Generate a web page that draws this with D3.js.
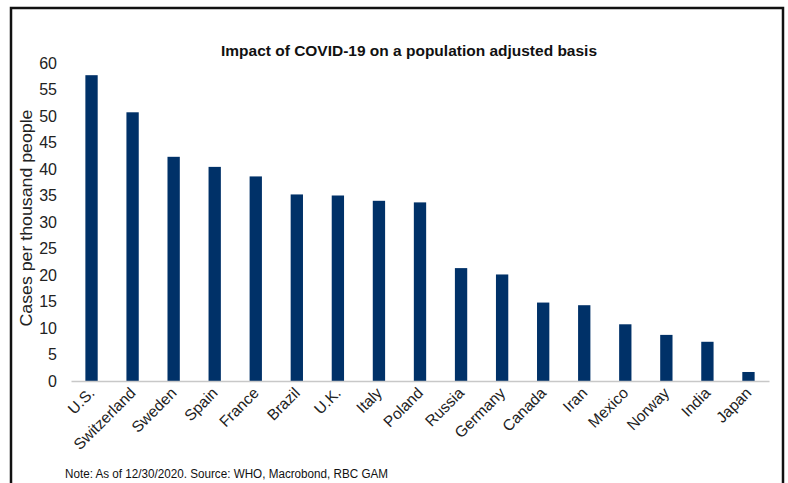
<!DOCTYPE html>
<html>

<head>
    <meta charset="utf-8">
    <title>Impact of COVID-19</title>
    <script src="https://d3js.org/d3.v7.min.js"></script>
    <style>
        body { margin: 0; background: #fff; }
        text { font-family: "Liberation Sans", Arial, sans-serif; }
    </style>
</head>

<body>
    <div id="chart"></div>
</body>

<script>
    let paises = ['U.S.', 'Switzerland', 'Sweden', 'Spain', 'France', 'Brazil', 'U.K.', 'Italy', 'Poland',
        'Russia', 'Germany', 'Canada', 'Iran', 'Mexico', 'Norway', 'India', 'Japan']
    let casos = [57.7, 50.7, 42.3, 40.4, 38.6, 35.2, 35.0, 34.0, 33.7, 21.3, 20.1, 14.8, 14.3, 10.7, 8.7, 7.4, 1.7]
    let ticks_y = [0, 5, 10, 15, 20, 25, 30, 35, 40, 45, 50, 55, 60]

    let svgw = 788;
    let svgh = 483;
    let margen = { sup: 63, inf: 102, izq: 71, der: 19 }

    let vizw = svgw - margen.izq - margen.der;
    let vizh = svgh - margen.sup - margen.inf;

    let misvg = d3.select('#chart')
        .append('svg')
        .attr('width', svgw)
        .attr('height', svgh)

    // marco
    misvg.append('rect')
        .attr('x', 11).attr('y', 8)
        .attr('width', 772).attr('height', 490)
        .attr('fill', 'none')
        .attr('stroke', '#111')
        .attr('stroke-width', 2.5)

    let escala_x = d3.scaleBand()
        .domain(paises)
        .range([0, vizw])
        .paddingInner(0.7)
        .paddingOuter(0.35)

    let escala_y = d3.scaleLinear()
        .domain([0, 60])
        .range([vizh, 0])

    let g = misvg.append('g')
        .attr('transform', `translate(${margen.izq}, ${margen.sup})`)

    g.selectAll('rect.barra')
        .data(paises)
        .enter()
        .append('rect')
        .attr('class', 'barra')
        .attr('x', d => escala_x(d))
        .attr('y', (d, i) => escala_y(casos[i]))
        .attr('width', escala_x.bandwidth())
        .attr('height', (d, i) => vizh - escala_y(casos[i]))
        .attr('fill', '#003168')

    // eje y
    let eje_y = d3.axisLeft(escala_y).tickValues(ticks_y).tickSize(0).tickPadding(14)
    let gy = g.append('g').call(eje_y)
    gy.select('.domain').remove()
    gy.selectAll('text')
        .attr('font-size', 16)
        .attr('fill', '#222')

    // eje x
    let eje_x = d3.axisBottom(escala_x).tickSize(0).tickPadding(0)
    let gx = g.append('g')
        .attr('transform', `translate(0, ${vizh})`)
        .call(eje_x)
    gx.select('.domain').attr('stroke', '#c8c8c8').attr('stroke-width', 1.5)
    gx.selectAll('text')
        .attr('font-size', 15.5)
        .attr('fill', '#222')
        .attr('text-anchor', 'end')
        .attr('dy', 0)
        .attr('transform', 'translate(4, 13) rotate(-45)')

    misvg.append('text')
        .attr('x', 409)
        .attr('y', 56)
        .attr('text-anchor', 'middle')
        .attr('font-size', 15)
        .attr('font-weight', 'bold')
        .attr('fill', '#111')
        .attr('textLength', 376)
        .attr('lengthAdjust', 'spacingAndGlyphs')
        .text('Impact of COVID-19 on a population adjusted basis')

    misvg.append('text')
        .attr('transform', 'translate(32, 218) rotate(-90)')
        .attr('text-anchor', 'middle')
        .attr('font-size', 16)
        .attr('fill', '#222')
        .attr('textLength', 217)
        .attr('lengthAdjust', 'spacingAndGlyphs')
        .text('Cases per thousand people')

    misvg.append('text')
        .attr('x', 65)
        .attr('y', 478)
        .attr('font-size', 12)
        .attr('fill', '#111')
        .attr('textLength', 323)
        .attr('lengthAdjust', 'spacingAndGlyphs')
        .text('Note: As of 12/30/2020. Source: WHO, Macrobond, RBC GAM')
</script>

</html>
